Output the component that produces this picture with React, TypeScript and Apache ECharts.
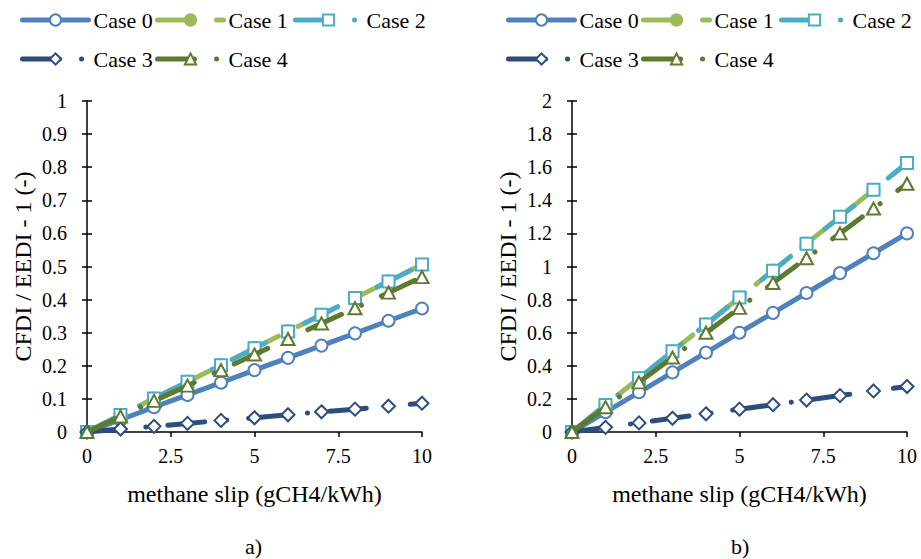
import { useEffect, useRef } from 'react';
import * as echarts from 'echarts';

// ---- data ----
const xValues = [0, 1, 2, 3, 4, 5, 6, 7, 8, 9, 10];
const caseNames = ['Case 0', 'Case 1', 'Case 2', 'Case 3', 'Case 4'];
const panelLabels = ['a)', 'b)'];
const xAxisTitle = 'methane slip (gCH4/kWh)';
const yAxisTitle = 'CFDI / EEDI - 1 (-)';

// panel a)
const case0A = [0, 0.037, 0.075, 0.112, 0.149, 0.187, 0.224, 0.261, 0.298, 0.336, 0.373];
const case1A = [0, 0.051, 0.101, 0.152, 0.202, 0.253, 0.304, 0.354, 0.405, 0.455, 0.506];
const case2A = [0, 0.051, 0.101, 0.152, 0.202, 0.253, 0.304, 0.354, 0.405, 0.455, 0.506];
const case3A = [0, 0.009, 0.017, 0.026, 0.035, 0.043, 0.052, 0.061, 0.069, 0.078, 0.087];
const case4A = [0, 0.047, 0.094, 0.140, 0.187, 0.234, 0.281, 0.328, 0.374, 0.421, 0.468];

// panel b)
const case0B = [0, 0.12, 0.24, 0.36, 0.48, 0.6, 0.72, 0.84, 0.96, 1.08, 1.2];
const case1B = [0, 0.163, 0.325, 0.488, 0.65, 0.813, 0.975, 1.138, 1.3, 1.463, 1.625];
const case2B = [0, 0.163, 0.325, 0.488, 0.65, 0.813, 0.975, 1.138, 1.3, 1.463, 1.625];
const case3B = [0, 0.028, 0.055, 0.083, 0.11, 0.138, 0.165, 0.193, 0.22, 0.248, 0.275];
const case4B = [0, 0.15, 0.3, 0.45, 0.6, 0.75, 0.9, 1.05, 1.2, 1.35, 1.5];

const yMaxA = 1;
const yStepA = 0.1;
const yMaxB = 2;
const yStepB = 0.2;

// ---- styles ----
const FONT = 'Liberation Serif';
const colors = ['#4F81BD', '#9BBB59', '#4BACC6', '#2C4D7E', '#5E7A2F'];
const symbols = ['circle', 'circle', 'rect', 'diamond', 'triangle'];
const LW = 5;
const lgDash = [37, 22];
const lgDashDot = [37, 22, 0.1, 22];
const dashes: any[] = ['solid', lgDash, lgDashDot, lgDashDot, lgDashDot];

const grids = [
  { left: 87, top: 101, width: 335, height: 331 },
  { left: 572, top: 101, width: 335, height: 331 },
];

function buildSeries(gridIdx: number, sets: number[][]) {
  return sets.map((vals, i) => ({
    type: 'line',
    name: caseNames[i],
    xAxisIndex: gridIdx,
    yAxisIndex: gridIdx * 2,
    data: vals.map((v, k) => [xValues[k], v]),
    symbol: symbols[i],
    symbolSize: i === 3 ? [13, 13] : i === 4 ? [13, 12] : 12,
    showSymbol: true,
    lineStyle: { color: colors[i], width: LW, type: dashes[i], cap: 'round', join: 'round' },
    itemStyle: {
      color: i === 1 ? colors[i] : '#ffffff',
      borderColor: colors[i],
      borderWidth: 2,
    },
    emphasis: { disabled: true },
    z: 2 + i,
  }));
}

function axesFor(gridIdx: number, yMax: number, yStep: number) {
  const axisLine = { show: true, lineStyle: { color: '#000', width: 1.5 } };
  const x = {
    type: 'value',
    gridIndex: gridIdx,
    min: 0,
    max: 10,
    interval: 2.5,
    axisLine,
    axisTick: { show: true, length: 5, inside: false, lineStyle: { color: '#000', width: 1.5 } },
    splitLine: { show: false },
    axisLabel: { fontFamily: FONT, fontSize: 20, color: '#000', margin: 14 },
    name: xAxisTitle,
    nameLocation: 'middle',
    nameGap: 50,
    nameTextStyle: { fontFamily: FONT, fontSize: 24, color: '#000' },
  };
  const y1 = {
    type: 'value',
    gridIndex: gridIdx,
    position: 'left',
    min: 0,
    max: yMax,
    interval: yStep,
    axisLine,
    axisTick: { show: true, length: 5, inside: false, lineStyle: { color: '#000', width: 1.5 } },
    splitLine: { show: false },
    axisLabel: { fontFamily: FONT, fontSize: 20, color: '#000', margin: 20 },
    name: yAxisTitle,
    nameLocation: 'middle',
    nameGap: 52,
    nameRotate: 90,
    nameTextStyle: { fontFamily: FONT, fontSize: 24, color: '#000' },
  };
  const y2 = {
    type: 'value',
    gridIndex: gridIdx,
    position: 'left',
    offset: 0,
    min: 0,
    max: yMax,
    interval: yStep,
    axisLine: { show: false },
    axisTick: { show: true, length: 5, inside: true, lineStyle: { color: '#000', width: 1.5 } },
    splitLine: { show: false },
    axisLabel: { show: false },
  };
  return { x, ys: [y1, y2] };
}

const legendSlots = [
  { dx: 20, top: 9 },
  { dx: 155, top: 9 },
  { dx: 293, top: 9 },
  { dx: 20, top: 48 },
  { dx: 155, top: 48 },
];

function buildLegends() {
  const out: any[] = [];
  [0, 486].forEach((off) => {
    caseNames.forEach((name, i) => {
      out.push({
        data: [name],
        left: off + legendSlots[i].dx,
        top: legendSlots[i].top,
        padding: 0,
        itemGap: 0,
        itemWidth: 66,
        itemHeight: 14,
        selectedMode: false,
        lineStyle: { width: LW },
        textStyle: { fontFamily: FONT, fontSize: 22, color: '#000' },
      });
    });
  });
  return out;
}

export default function App() {
  const ref = useRef<HTMLDivElement>(null);
  useEffect(() => {
    document.body.style.margin = '0';
    if (!ref.current) return;
    const chart = echarts.init(ref.current, undefined, { renderer: 'svg' });
    const a = axesFor(0, yMaxA, yStepA);
    const b = axesFor(1, yMaxB, yStepB);
    chart.setOption({
      animation: false,
      backgroundColor: '#ffffff',
      grid: grids,
      xAxis: [a.x, b.x],
      yAxis: [...a.ys, ...b.ys],
      legend: buildLegends(),
      series: [
        ...buildSeries(0, [case0A, case1A, case2A, case3A, case4A]),
        ...buildSeries(1, [case0B, case1B, case2B, case3B, case4B]),
      ],
      graphic: [
        {
          type: 'text',
          left: 245,
          top: 535,
          style: { text: panelLabels[0], font: `22px ${FONT}`, fill: '#000' },
        },
        {
          type: 'text',
          left: 731,
          top: 535,
          style: { text: panelLabels[1], font: `22px ${FONT}`, fill: '#000' },
        },
      ],
    });
    return () => chart.dispose();
  }, []);
  return <div ref={ref} style={{ width: 921, height: 559 }} />;
}
